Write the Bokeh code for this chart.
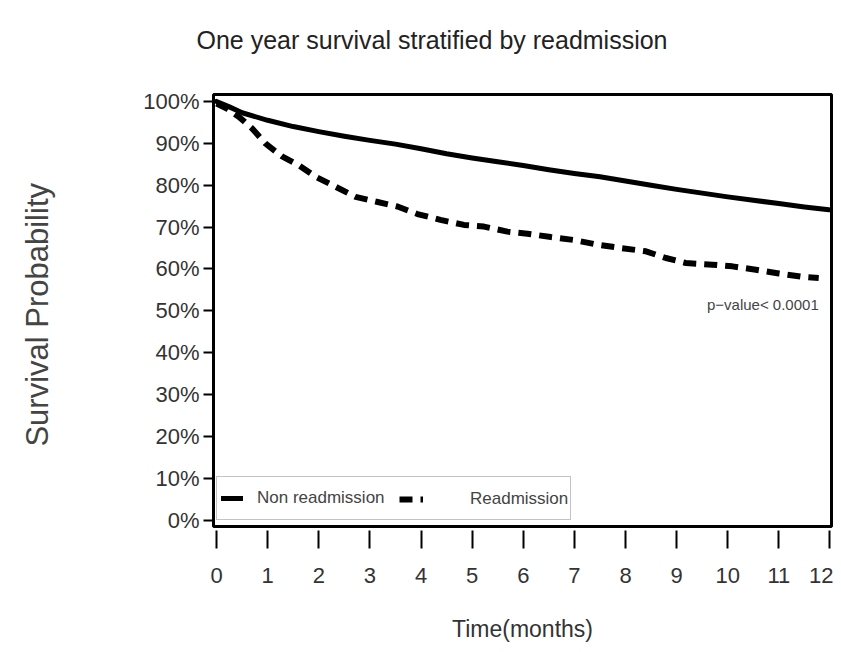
from bokeh.plotting import figure
from bokeh.models import Range1d, FixedTicker, Legend, LegendItem, Label, Title
from bokeh.embed import file_html
from bokeh.resources import INLINE

# ---- data ----
TITLE = "One year survival stratified by readmission"
X_LABEL = "Time(months)"
Y_LABEL = "Survival  Probability"
SERIES_NAMES = ["Non readmission", "Readmission"]

x_ticks = list(range(0, 13))
x_tick_labels = [str(t) for t in x_ticks]
y_ticks = list(range(0, 101, 10))
y_tick_labels = ["0%", "10%", "20%", "30%", "40%", "50%", "60%", "70%", "80%", "90%", "100%"]

non_readm_time = [0, 0.25, 0.5, 1, 1.5, 2, 2.5, 3, 3.5, 4, 4.5, 5, 5.5, 6, 6.5,
                  7, 7.5, 8, 8.5, 9, 9.5, 10, 10.5, 11, 11.5, 11.98]
non_readm_surv = [100, 98.7, 97.3, 95.5, 94.0, 92.8, 91.7, 90.7, 89.8, 88.7, 87.5,
                  86.5, 85.6, 84.7, 83.7, 82.8, 82.0, 81.0, 80.0, 79.0, 78.1, 77.2,
                  76.4, 75.6, 74.8, 74.1]

readm_time = [0, 0.2, 0.44, 0.7, 0.96, 1.29, 1.6, 1.94, 2.33, 2.72, 3.11, 3.54, 3.93,
              4.38, 4.84, 5.23, 5.69, 6.08, 6.54, 6.99, 7.45, 7.9, 8.4, 8.79, 9.18,
              9.7, 10.09, 10.55, 11.0, 11.46, 11.78]
readm_surv = [99.5, 98.3, 96.3, 93.5, 89.9, 86.8, 84.8, 82.0, 79.6, 77.2, 76.1, 74.9, 73.1,
              71.7, 70.5, 70.1, 68.9, 68.4, 67.6, 66.9, 65.8, 65.0, 64.2, 62.6, 61.4,
              61.0, 60.6, 59.8, 58.9, 58.1, 57.8]

P_TEXT = "p\u2212value< 0.0001"
P_X = 11.78
P_Y = 51.5

FONT = "'Liberation Sans Narrow', 'Liberation Sans', Arial, sans-serif"
TEXT_COLOR = "#333333"

p = figure(width=833, height=644, output_backend="svg", toolbar_location=None,
           x_range=Range1d(-0.06, 12.03), y_range=Range1d(-1.55, 101.66),
           min_border_left=213, min_border_right=2, min_border_top=94,
           min_border_bottom=116)

p.background_fill_color = "white"
p.border_fill_color = "white"
p.outline_line_color = "black"
p.outline_line_width = 3
p.xgrid.visible = False
p.ygrid.visible = False

# spacer between the frame and the title (keeps the title high above the frame)
p.add_layout(Title(text=" ", text_font_size="1px", standoff=33), "above")

# title
p.title.text = TITLE
p.title.text_font = FONT
p.title.text_font_size = "25px"
p.title.text_font_style = "normal"
p.title.text_color = "#222222"
p.title.align = "left"
p.title.vertical_align = "bottom"
p.title.offset = -17
p.title.standoff = 10

# x axis
xa = p.xaxis[0]
xa.ticker = FixedTicker(ticks=x_ticks)
xa.major_label_overrides = {t: l for t, l in zip(x_ticks, x_tick_labels)}
xa.axis_line_color = None
xa.major_tick_line_color = "black"
xa.major_tick_line_width = 2
xa.major_tick_in = -4
xa.major_tick_out = 22
xa.minor_tick_line_color = None
xa.major_label_standoff = 19
xa.major_label_text_font = FONT
xa.major_label_text_font_size = "22px"
xa.major_label_text_color = TEXT_COLOR
xa.axis_label = X_LABEL
xa.axis_label_text_font = FONT
xa.axis_label_text_font_size = "23px"
xa.axis_label_text_font_style = "normal"
xa.axis_label_text_color = TEXT_COLOR
xa.axis_label_standoff = 30

# y axis
ya = p.yaxis[0]
ya.ticker = FixedTicker(ticks=y_ticks)
ya.major_label_overrides = {t: l for t, l in zip(y_ticks, y_tick_labels)}
ya.axis_line_color = None
ya.major_tick_line_color = "black"
ya.major_tick_line_width = 2
ya.major_tick_in = 0
ya.major_tick_out = 10
ya.minor_tick_line_color = None
ya.major_label_standoff = 4
ya.major_label_text_font = FONT
ya.major_label_text_font_size = "22px"
ya.major_label_text_color = TEXT_COLOR
ya.axis_label = Y_LABEL
ya.axis_label_text_font = FONT
ya.axis_label_text_font_size = "31px"
ya.axis_label_text_font_style = "normal"
ya.axis_label_text_color = "#444444"
ya.axis_label_standoff = 85

# curves
r_non = p.line(non_readm_time, non_readm_surv, line_color="black", line_width=5,
               line_join="round", line_cap="round")
r_re = p.line(readm_time, readm_surv, line_color="black", line_width=6,
              line_dash="13 8")

# p-value
p.add_layout(Label(x=P_X, y=P_Y, text=P_TEXT, text_align="right",
                   text_baseline="middle", text_font=FONT,
                   text_font_size="15px", text_color="#444444"))

# legends (boxed one for first item, overlay for second)
leg_a = Legend(items=[LegendItem(label=SERIES_NAMES[0], renderers=[r_non])],
               location=(3, 6), orientation="horizontal", margin=0, padding=4,
               glyph_width=22, glyph_height=34, label_standoff=14,
               label_width=309, label_height=20,
               label_text_font=FONT, label_text_font_size="17px",
               label_text_color="#444444",
               border_line_color="#888888", border_line_width=1,
               background_fill_color="white", background_fill_alpha=1.0)
leg_b = Legend(items=[LegendItem(label=SERIES_NAMES[1], renderers=[r_re])],
               location=(186, 10), orientation="horizontal", margin=0, padding=0,
               glyph_width=24, glyph_height=34, label_standoff=47,
               label_height=20,
               label_text_font=FONT, label_text_font_size="17px",
               label_text_color="#444444",
               border_line_alpha=0, background_fill_alpha=0)
p.add_layout(leg_a, "center")
p.add_layout(leg_b, "center")

open("out.html", "w").write(file_html(p, INLINE))
